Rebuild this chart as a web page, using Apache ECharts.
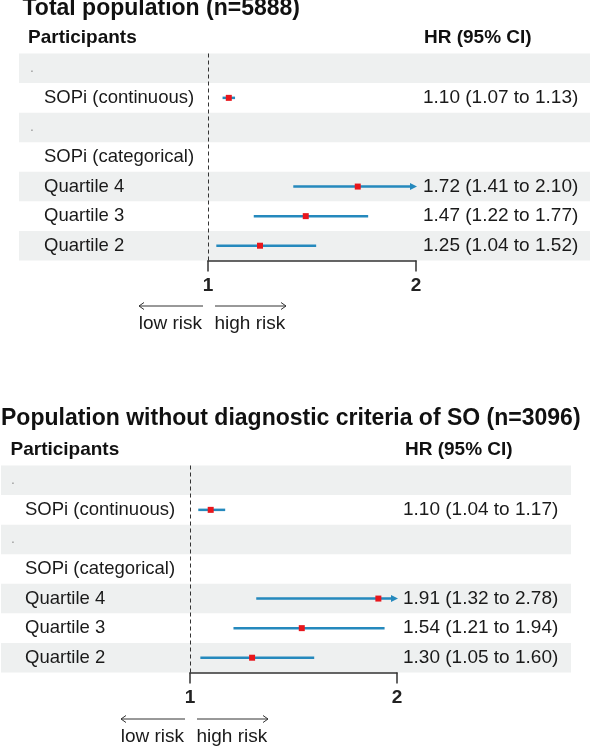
<!DOCTYPE html>
<html>
<head>
<meta charset="utf-8">
<script src="https://cdn.jsdelivr.net/npm/echarts@6/dist/echarts.min.js"></script>
<style>html,body{margin:0;padding:0;background:#fff}#c{width:590px;height:748px}</style>
</head>
<body>
<div id="c"></div>
<script>
// ---------- data ----------
const titles = ['Total population (n=5888)', 'Population without diagnostic criteria of SO (n=3096)'];
const headerLeft = 'Participants';
const headerRight = 'HR (95% CI)';
const rowLabels = ['.', 'SOPi (continuous)', '.', 'SOPi (categorical)', 'Quartile 4', 'Quartile 3', 'Quartile 2'];
const bandRows = [0, 2, 4, 6];
const xTicks = [1, 2];
const riskLabels = ['low risk', 'high risk'];

const estTotal = [null, 1.10, null, null, 1.72, 1.47, 1.25];
const loTotal  = [null, 1.07, null, null, 1.41, 1.22, 1.04];
const hiTotal  = [null, 1.13, null, null, 2.10, 1.77, 1.52];

const estNoSO = [null, 1.10, null, null, 1.91, 1.54, 1.30];
const loNoSO  = [null, 1.04, null, null, 1.32, 1.21, 1.05];
const hiNoSO  = [null, 1.17, null, null, 2.78, 1.94, 1.60];

// ---------- layout / style ----------
const FONT = '"Liberation Sans", Arial, sans-serif';
const xMin = xTicks[0], xMax = xTicks[xTicks.length - 1];
const panels = [
  { est: estTotal, lo: loTotal, hi: hiTotal, title: titles[0],
    gridLeft: 208, gridWidth: 208, gridTop: 53.5, gridHeight: 207,
    titleX: 22.5, titleY: 8.6, headY: 37.6, headLX: 28, headRX: 424,
    dotX: 30, labX: 44, hrMargin: 7, bandOff: 189, bandW: 571,
    arrowY: 306, riskY: 324 },
  { est: estNoSO, lo: loNoSO, hi: hiNoSO, title: titles[1],
    gridLeft: 190, gridWidth: 207, gridTop: 465.5, gridHeight: 207,
    titleX: 1, titleY: 418.6, headY: 450, headLX: 10.5, headRX: 405,
    dotX: 11, labX: 25, hrMargin: 6, bandOff: 189, bandW: 570,
    arrowY: 719, riskY: 736.4 }
];
const BAND = '#eef0f0', BLUE = '#2589bd', RED = '#e8161c', INK = '#1a1a1a';

function fmt(v) { return v.toFixed(2); }

const option = { animation: false, backgroundColor: '#fff', grid: [], xAxis: [], yAxis: [], series: [], graphic: [] };

panels.forEach((p, i) => {
  option.grid.push({ left: p.gridLeft, width: p.gridWidth, top: p.gridTop, height: p.gridHeight });
  option.xAxis.push({
    gridIndex: i, type: 'value', min: xMin, max: xMax, interval: 1,
    axisLine: { show: true, onZero: false, lineStyle: { color: '#333', width: 1.5 } },
    axisTick: { show: true, length: 11, lineStyle: { color: '#333', width: 1.5 } },
    axisLabel: { fontSize: 19, fontWeight: 'bold', color: '#222', fontFamily: FONT, margin: 25.5, verticalAlign: 'middle' },
    splitLine: { show: false }
  });
  const hrText = p.est.map((e, k) => e == null ? '' : fmt(e) + ' (' + fmt(p.lo[k]) + ' to ' + fmt(p.hi[k]) + ')');
  option.yAxis.push({
    gridIndex: i, type: 'category', data: rowLabels, inverse: true,
    axisLine: { show: false }, axisTick: { show: false }, splitLine: { show: false },
    axisLabel: {
      interval: 0, align: 'left', margin: p.gridLeft - p.dotX, fontFamily: FONT,
      formatter: v => v === '.' ? '{dot|.}' : '{lab|' + v + '}',
      rich: {
        dot: { fontSize: 14, color: '#999', fontFamily: FONT },
        lab: { fontSize: 18.5, color: INK, fontFamily: FONT, padding: [0, 0, 0, p.labX - p.dotX] }
      }
    }
  });
  option.yAxis.push({
    gridIndex: i, type: 'category', data: hrText, inverse: true, position: 'right',
    axisLine: { show: false }, axisTick: { show: false }, splitLine: { show: false },
    axisLabel: { interval: 0, align: 'left', margin: p.hrMargin, fontSize: 19, color: INK, fontFamily: FONT }
  });
  const yIdx = i * 2;
  // shaded rows
  option.series.push({
    type: 'custom', xAxisIndex: i, yAxisIndex: yIdx, silent: true, z: 0,
    data: bandRows.map(r => [xMin, r]),
    encode: { x: 0, y: 1 },
    renderItem: (params, api) => {
      const c = api.coord([api.value(0), api.value(1)]);
      const h = api.size([0, 1])[1];
      return { type: 'rect', shape: { x: c[0] - p.bandOff, y: c[1] - h / 2, width: p.bandW, height: h },
               style: { fill: BAND } };
    }
  });
  // confidence intervals
  const ciData = [];
  p.est.forEach((e, k) => { if (e != null) ciData.push([p.lo[k], p.hi[k], e, k]); });
  option.series.push({
    type: 'custom', xAxisIndex: i, yAxisIndex: yIdx, silent: true, z: 3,
    data: ciData, encode: { x: [0, 1], y: 3 },
    renderItem: (params, api) => {
      const lo = api.value(0), hi = api.value(1), row = api.value(3);
      const cut = hi > xMax;
      const a = api.coord([lo, row]);
      const b = api.coord([Math.min(hi, xMax), row]);
      const children = [{
        type: 'line', shape: { x1: a[0], y1: a[1], x2: cut ? b[0] - 4 : b[0], y2: b[1] },
        style: { stroke: BLUE, lineWidth: 2.5 }
      }];
      if (cut) {
        children.push({ type: 'polygon', shape: { points: [[b[0] - 6, b[1] - 3.5], [b[0] + 1, b[1]], [b[0] - 6, b[1] + 3.5]] },
                        style: { fill: BLUE } });
      }
      return { type: 'group', children };
    }
  });
  // point estimates + reference line
  option.series.push({
    type: 'scatter', xAxisIndex: i, yAxisIndex: yIdx, z: 4, silent: true,
    symbol: 'rect', symbolSize: 6, itemStyle: { color: RED, opacity: 1 },
    data: p.est.map((e, k) => e == null ? null : [e, k]).filter(d => d),
    markLine: {
      silent: true, symbol: ['none', 'none'], label: { show: false },
      lineStyle: { type: [4, 3], color: '#333', width: 1 },
      data: [{ xAxis: xMin }]
    }
  });
  // texts / annotations
  option.graphic.push(
    { type: 'text', x: p.titleX, y: p.titleY, style: { text: p.title, font: 'bold 23px ' + FONT, fill: '#111', verticalAlign: 'middle' } },
    { type: 'text', x: p.headLX, y: p.headY, style: { text: headerLeft, font: 'bold 19px ' + FONT, fill: '#111', verticalAlign: 'middle' } },
    { type: 'text', x: p.headRX, y: p.headY, style: { text: headerRight, font: 'bold 19px ' + FONT, fill: '#111', verticalAlign: 'middle' } }
  );
  const x1 = p.gridLeft;
  const ay = p.arrowY;
  option.graphic.push(
    { type: 'line', shape: { x1: x1 - 5, y1: ay, x2: x1 - 69, y2: ay }, style: { stroke: '#333', lineWidth: 1 } },
    { type: 'polyline', shape: { points: [[x1 - 64, ay - 3.5], [x1 - 69, ay], [x1 - 64, ay + 3.5]] }, style: { stroke: '#333', lineWidth: 1, fill: null } },
    { type: 'line', shape: { x1: x1 + 7, y1: ay, x2: x1 + 78, y2: ay }, style: { stroke: '#333', lineWidth: 1 } },
    { type: 'polyline', shape: { points: [[x1 + 73, ay - 3.5], [x1 + 78, ay], [x1 + 73, ay + 3.5]] }, style: { stroke: '#333', lineWidth: 1, fill: null } },
    { type: 'text', x: x1 - 6, y: p.riskY, style: { text: riskLabels[0], font: '19px ' + FONT, fill: INK, align: 'right', verticalAlign: 'middle' } },
    { type: 'text', x: x1 + 6.5, y: p.riskY, style: { text: riskLabels[1], font: '19px ' + FONT, fill: INK, align: 'left', verticalAlign: 'middle' } }
  );
});

const chart = echarts.init(document.getElementById('c'), null, { renderer: 'canvas' });
chart.setOption(option);
</script>
</body>
</html>
